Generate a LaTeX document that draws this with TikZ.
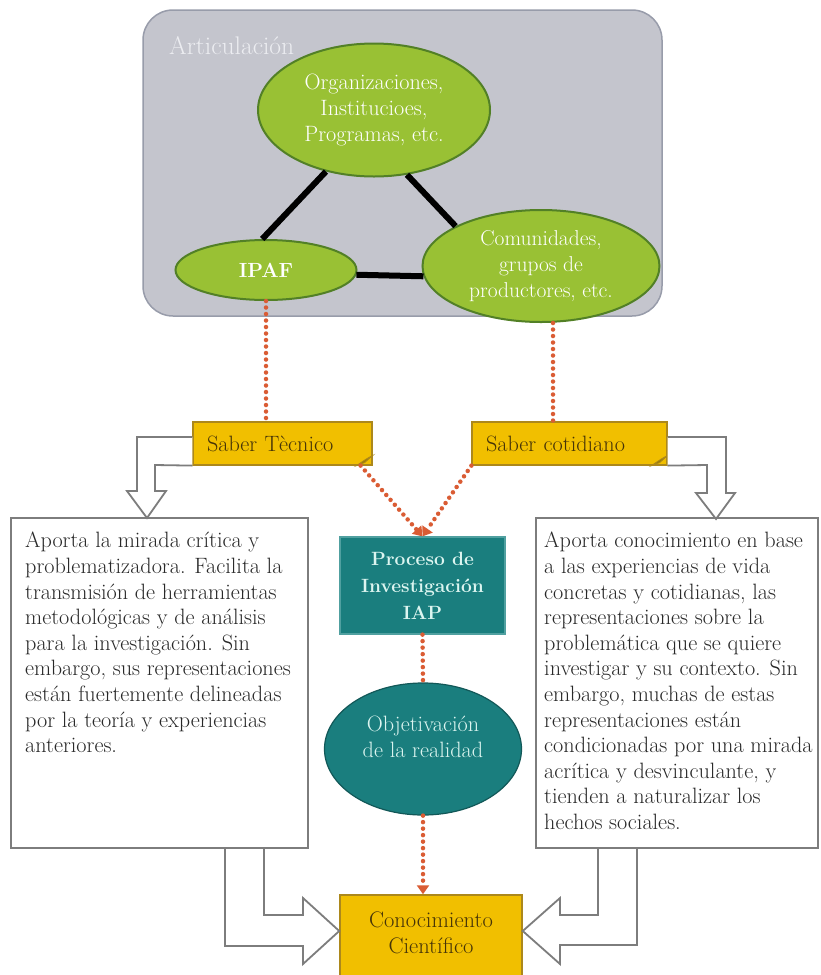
\documentclass[tikz,border=0pt]{standalone}
\usepackage{fontspec}
\usetikzlibrary{shapes.geometric,arrows.meta}
\definecolor{artgray}{RGB}{196,197,205}
\definecolor{artedge}{RGB}{152,156,170}
\definecolor{arttext}{RGB}{236,237,241}
\definecolor{leaf}{RGB}{153,193,52}
\definecolor{leafedge}{RGB}{82,128,38}
\definecolor{gold}{RGB}{241,191,0}
\definecolor{goldedge}{RGB}{172,136,28}
\definecolor{goldtext}{RGB}{70,52,8}
\definecolor{tealfill}{RGB}{26,126,126}
\definecolor{tealedge}{RGB}{80,160,160}
\definecolor{tealtext}{RGB}{220,245,240}
\definecolor{dotred}{RGB}{218,92,52}
\definecolor{boxedge}{RGB}{125,125,125}
\definecolor{bodytext}{RGB}{40,40,40}

\newcommand{\txt}{\fontsize{22.2}{25.6}\selectfont}

\begin{document}
\begin{tikzpicture}[x=1pt,y=-1pt,
  artbox/.style={draw=artedge,fill=artgray,line width=1.5,rounded corners=30,
    minimum width=519,minimum height=306,inner sep=0},
  leafell/.style={ellipse,draw=leafedge,fill=leaf,line width=2,text=white,
    align=center,inner sep=0,font=\txt},
  link/.style={line width=6,black},
  saberbox/.style={rectangle,draw=goldedge,fill=gold,line width=1.2,text=goldtext,
    minimum height=43,inner xsep=14,inner ysep=0,align=left,font=\txt},
  goldbox/.style={rectangle,draw=goldedge,fill=gold,line width=1.5,inner sep=0},
  textbox/.style={rectangle,draw=boxedge,fill=white,line width=2,
    minimum width=297,minimum height=330,inner sep=0},
  bodytxt/.style={anchor=north west,inner sep=0,align=left,text=bodytext,font=\txt},
  tealbox/.style={rectangle,draw=tealedge,fill=tealfill,line width=1.2,text=tealtext,
    minimum width=165,minimum height=97,inner sep=0,align=center,
    font=\fontsize{19.2}{27}\selectfont\bfseries},
  tealell/.style={ellipse,draw=tealfill!70!black,fill=tealfill,line width=1.2,
    minimum width=197,minimum height=132,inner sep=0},
  dotline/.style={dotred,line width=4.5,line cap=round,dash pattern=on 0pt off 6.5pt},
  dotarrow/.style={dotline,-{Triangle[length=9pt,width=12pt]}},
  hollow/.style={draw=boxedge,fill=white,line width=1.8,line join=miter}]

\useasboundingbox (0,0) rectangle (820,975);
\clip (0,0) rectangle (820,975);
\fill[white] (0,0) rectangle (820,975);

% Articulacion
\node[artbox] (artic) at (402.5,163) {};
\node[anchor=west,inner sep=0,text=arttext,font=\fontsize{25.5}{28}\selectfont] (arttitle) at (169,46) {Articulación};
\node[leafell,minimum width=232,minimum height=133] (org) at (374,110) {Organizaciones,\\Institucioes,\\Programas, etc.};
\node[leafell,minimum width=181,minimum height=60,font=\fontsize{20.5}{26}\selectfont\bfseries] (ipaf) at (266,270) {IPAF};
\node[leafell,minimum width=237,minimum height=112,font=\fontsize{21.5}{25.6}\selectfont] (com) at (541,266) {Comunidades,\\grupos de\\productores, etc.};
\draw[link] (org.232) -- (ipaf.97);
\draw[link] (org.297) -- (com.155);
\draw[link] (ipaf.-3) -- (com.185);

% saberes
\node[saberbox,text width=151] (saberT) at (282.5,443.5) {Saber Tècnico};
\node[saberbox,text width=167] (saberC) at (569.5,443.5) {Saber cotidiano};
\draw[dotline] (ipaf.south) -- (ipaf.south |- saberT.north);
\draw[dotline] ([xshift=12]com.south) -- ([xshift=12]com.south |- saberC.north);
% esquinas dobladas
\filldraw[fill=gold!65!black,draw=goldedge,line width=0.8] ([yshift=10]saberT.south east) .. controls ([xshift=-6,yshift=7]saberT.south east) .. ([xshift=-16]saberT.south east) -- ([xshift=-8,yshift=3]saberT.south east) -- cycle;
\filldraw[fill=gold!65!black,draw=goldedge,line width=0.8] ([yshift=10]saberC.south east) .. controls ([xshift=-6,yshift=7]saberC.south east) .. ([xshift=-16]saberC.south east) -- ([xshift=-8,yshift=3]saberC.south east) -- cycle;

% cajas de texto
\node[textbox] (leftbox) at (159.5,683) {};
\node[textbox,minimum width=282] (rightbox) at (677,683) {};
\node[bodytxt] (lefttxt) at (25,532) {Aporta la mirada crítica y\\problematizadora. Facilita la\\transmisión de herramientas\\metodológicas y de análisis\\para la investigación. Sin\\embargo, sus representaciones\\están fuertemente delineadas\\por la teoría y experiencias\\anteriores.};
\node[bodytxt] (righttxt) at (544,532) {Aporta conocimiento en base\\a las experiencias de vida\\concretas y cotidianas, las\\representaciones sobre la\\problemática que se quiere\\investigar y su contexto. Sin\\embargo, muchas de estas\\representaciones están\\condicionadas por una mirada\\acrítica y desvinculante, y\\tienden a naturalizar los\\hechos sociales.};

% flechas huecas
\draw[hollow] (saberT.west |- 0,437) -- (137,437) -- (137,491) -- (127,491) -- (147,518) -- (166,491) -- (155,491) -- (155,465) -- (saberT.south west);
\draw[hollow] (saberC.east |- 0,437) -- (726,437) -- (726,493) -- (735,493) -- (716,519) -- (696,493) -- (707,493) -- (707,465) -- (saberC.south east);

% proceso IAP
\node[tealbox] (proc) at (422.5,585.5) {Proceso de\\Investigación\\IAP};
\node[tealell] (obj) at (423,749) {};
\node[inner sep=0,align=center,text=tealtext,font=\txt] (objtxt) at (423,737) {Objetivación\\de la realidad};
\draw[dotarrow] ([xshift=-12]saberT.south east) -- (proc.north);
\draw[dotarrow] (saberC.south west) -- (proc.north);
\draw[dotline] (proc.south) -- (obj.north);

% conocimiento cientifico
\node[goldbox,minimum width=182,minimum height=110] (conoc) at (431,950) {};
\node[inner sep=0,align=center,text=goldtext,font=\fontsize{22.5}{25.6}\selectfont] (conoctxt) at (431,933) {Conocimiento\\Científico};
\draw[dotarrow] (obj.south) -- (obj.south |- conoc.north);
\draw[hollow] (225,0 |- leftbox.south) -- (225,946) -- (303,946) -- (303,964) -- (conoc.west |- 0,931) -- (303,898) -- (303,915) -- (264,915) -- (264,0 |- leftbox.south);
\draw[hollow] (637,0 |- rightbox.south) -- (637,945) -- (560,945) -- (560,964) -- (conoc.east |- 0,931) -- (560,898) -- (560,915) -- (598,915) -- (598,0 |- rightbox.south);
\end{tikzpicture}
\end{document}
